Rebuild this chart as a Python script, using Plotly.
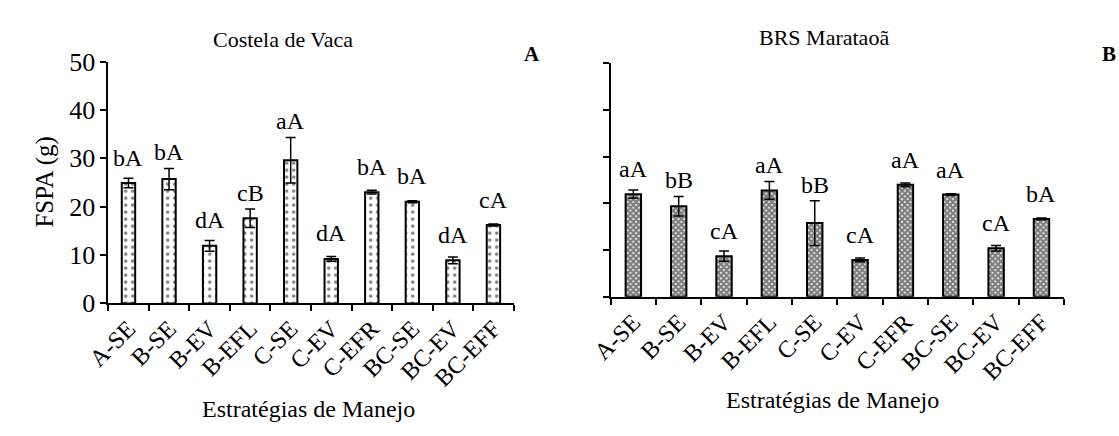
import plotly.graph_objects as go

# Management strategies (x categories)
strategies = ["A-SE", "B-SE", "B-EV", "B-EFL", "C-SE", "C-EV", "C-EFR", "BC-SE", "BC-EV", "BC-EFF"]

# Costela de Vaca: FSPA (g), standard error and mean-comparison letters
costela_vals = [24.9, 25.7, 11.9, 17.6, 29.6, 9.2, 23.0, 21.0, 8.9, 16.2]
costela_err = [1.0, 2.2, 1.1, 1.9, 4.7, 0.5, 0.4, 0.2, 0.7, 0.2]
costela_letters = ["bA", "bA", "dA", "cB", "aA", "dA", "bA", "bA", "dA", "cA"]

# BRS Marataoã: FSPA (g), standard error and mean-comparison letters
marataoa_vals = [22.0, 19.4, 8.7, 22.8, 15.8, 7.9, 24.0, 21.9, 10.4, 16.7]
marataoa_err = [0.9, 2.1, 1.1, 1.9, 4.8, 0.4, 0.4, 0.2, 0.6, 0.2]
marataoa_letters = ["aA", "bB", "cA", "aA", "bB", "cA", "aA", "aA", "cA", "bA"]

y_ticks = [0, 10, 20, 30, 40, 50]

FONT = "Liberation Serif"
W, H = 1119, 436

fig = go.Figure()

fig.add_trace(go.Bar(
    x=strategies, y=costela_vals, width=0.33,
    marker=dict(color="white", line=dict(color="black", width=2),
                pattern=dict(shape=".", size=7, solidity=0.2, fgcolor="black", bgcolor="white")),
    error_y=dict(type="data", array=costela_err, visible=True, color="black", thickness=1.5, width=5),
    xaxis="x", yaxis="y", showlegend=False,
))

fig.add_trace(go.Bar(
    x=strategies, y=marataoa_vals, width=0.34,
    marker=dict(color="white", line=dict(color="black", width=2),
                pattern=dict(shape="x", size=4, solidity=0.8, fgcolor="black", bgcolor="white")),
    error_y=dict(type="data", array=marataoa_err, visible=True, color="black", thickness=1.5, width=5),
    xaxis="x2", yaxis="y2", showlegend=False,
))

annotations = []


def letter_labels(vals, errs, letters, xref, yref):
    for cat, v, e, t in zip(strategies, vals, errs, letters):
        y = max(v + 3.2, v + e + 1.3)
        annotations.append(dict(
            x=cat, y=y, xref=xref, yref=yref, text=t, showarrow=False,
            yanchor="bottom", yshift=-5, font=dict(family=FONT, size=24, color="black"),
        ))


letter_labels(costela_vals, costela_err, costela_letters, "x", "y")
letter_labels(marataoa_vals, marataoa_err, marataoa_letters, "x2", "y2")

# Panel titles, panel letters and axis titles
annotations += [
    dict(text="Costela de Vaca", x=265 / W, y=1 - 27 / H, xref="paper", yref="paper",
         showarrow=False, xanchor="center", yanchor="middle", font=dict(family=FONT, size=22, color="black")),
    dict(text="BRS Marataoã", x=818 / W, y=1 - 25 / H, xref="paper", yref="paper",
         showarrow=False, xanchor="center", yanchor="middle", font=dict(family=FONT, size=22, color="black")),
    dict(text="<b>A</b>", x=520 / W, y=1 - 43 / H, xref="paper", yref="paper",
         showarrow=False, xanchor="center", yanchor="middle", font=dict(family=FONT, size=21, color="black")),
    dict(text="<b>B</b>", x=1109 / W, y=1 - 43 / H, xref="paper", yref="paper",
         showarrow=False, xanchor="center", yanchor="middle", font=dict(family=FONT, size=21, color="black")),
    dict(text="Estratégias de Manejo", x=291 / W, y=1 - 423 / H, xref="paper", yref="paper",
         showarrow=False, xanchor="center", yanchor="middle", font=dict(family=FONT, size=24, color="black")),
    dict(text="Estratégias de Manejo", x=826 / W, y=1 - 414 / H, xref="paper", yref="paper",
         showarrow=False, xanchor="center", yanchor="middle", font=dict(family=FONT, size=24, color="black")),
    dict(text="FSPA (g)", x=22 / W, y=1 - 180 / H, xref="paper", yref="paper", textangle=-90,
         showarrow=False, xanchor="center", yanchor="middle", font=dict(family=FONT, size=25, color="black")),
]

xaxis_common = dict(
    type="category", range=[-0.5, 9.5], tickson="boundaries", ticks="outside", ticklen=6,
    tickwidth=1.5, tickcolor="black", showline=True, linecolor="black", linewidth=1.5,
    showgrid=False, zeroline=False, tickangle=-45, tickfont=dict(family=FONT, size=24, color="black"),
    fixedrange=True,
)
yaxis_common = dict(
    range=[0, 50], tickvals=y_ticks, ticks="outside", ticklen=6, tickwidth=1.5, tickcolor="black",
    showline=True, linecolor="black", linewidth=1.5, showgrid=False, zeroline=False,
    tickfont=dict(family=FONT, size=26, color="black"), fixedrange=True,
)

fig.update_layout(
    width=W, height=H, margin=dict(l=0, r=0, t=0, b=0),
    paper_bgcolor="white", plot_bgcolor="white",
    xaxis=dict(xaxis_common, domain=[87 / W, 501 / W], anchor="y"),
    yaxis=dict(yaxis_common, domain=[1 - 310 / H, 1 - 51 / H], anchor="x", showticklabels=True),
    xaxis2=dict(xaxis_common, domain=[600 / W, 1063 / W], anchor="y2"),
    yaxis2=dict(yaxis_common, domain=[1 - 303 / H, 1 - 53 / H], anchor="x2", showticklabels=False),
    annotations=annotations,
    bargap=0.6,
)

fig.write_html("out.html")
